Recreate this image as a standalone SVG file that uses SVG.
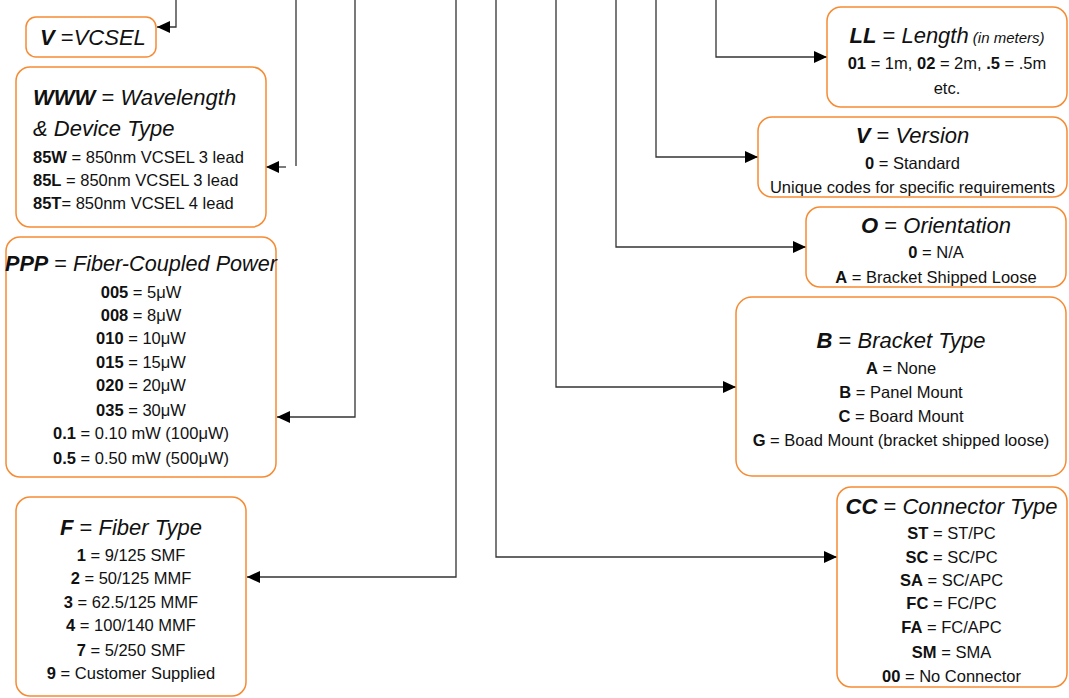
<svg xmlns="http://www.w3.org/2000/svg" width="1069" height="698" viewBox="0 0 1069 698">
<style>
text{font-family:"Liberation Sans",Arial,sans-serif;fill:#111}
.t{font-size:22px}
.s{font-size:16.5px}
.c{text-anchor:middle}
.k{font-weight:bold;font-style:italic}
.i{font-style:italic}
.b{font-weight:bold}
.box{fill:#fff;stroke:#F68B33;stroke-width:1.5}
.ln{fill:none;stroke:#333;stroke-width:1.3}
</style>
<defs>
<marker id="ah" markerUnits="userSpaceOnUse" markerWidth="13" markerHeight="12" refX="13" refY="6" orient="auto">
<path d="M0,0 L13,6 L0,12 z" fill="#000"/>
</marker>
</defs>
<rect width="1069" height="698" fill="#fff"/>
<g id="connectors">
<path class="ln" d="M176,0 V27 H157" marker-end="url(#ah)"/>
<path class="ln" d="M296,0 V166"/>
<path class="ln" d="M286,167 H266" marker-end="url(#ah)"/>
<path class="ln" d="M355,0 V417 H277" marker-end="url(#ah)"/>
<path class="ln" d="M456,0 V577 H247" marker-end="url(#ah)"/>
<path class="ln" d="M496,0 V557 H837" marker-end="url(#ah)"/>
<path class="ln" d="M556,0 V387 H736" marker-end="url(#ah)"/>
<path class="ln" d="M616,0 V247 H806" marker-end="url(#ah)"/>
<path class="ln" d="M656,0 V157 H758" marker-end="url(#ah)"/>
<path class="ln" d="M716,0 V57 H827" marker-end="url(#ah)"/>
</g>
<g id="vcsel">
<rect class="box" x="26" y="17" width="130" height="40" rx="10"/>
<text class="t" x="40" y="45"><tspan class="k">V</tspan> =<tspan class="i">VCSEL</tspan></text>
</g>
<g id="www">
<rect class="box" x="16" y="67" width="250" height="160" rx="14"/>
<text class="t" x="33" y="105"><tspan class="k">WWW</tspan> = <tspan class="i">Wavelength</tspan></text>
<text class="t i" x="33" y="136">&amp; Device Type</text>
<text class="s" x="33" y="163"><tspan class="b">85W</tspan> = 850nm VCSEL 3 lead</text>
<text class="s" x="33" y="186"><tspan class="b">85L</tspan> = 850nm VCSEL 3 lead</text>
<text class="s" x="33" y="209"><tspan class="b">85T</tspan>= 850nm VCSEL 4 lead</text>
</g>
<g id="ppp">
<rect class="box" x="6" y="237" width="270" height="240" rx="14"/>
<text class="t c" x="141" y="271" textLength="272" lengthAdjust="spacingAndGlyphs"><tspan class="k">PPP</tspan> = <tspan class="i">Fiber-Coupled Power</tspan></text>
<text class="s c" x="141" y="298"><tspan class="b">005</tspan> = 5μW</text>
<text class="s c" x="141" y="321"><tspan class="b">008</tspan> = 8μW</text>
<text class="s c" x="141" y="344"><tspan class="b">010</tspan> = 10μW</text>
<text class="s c" x="141" y="368"><tspan class="b">015</tspan> = 15μW</text>
<text class="s c" x="141" y="391"><tspan class="b">020</tspan> = 20μW</text>
<text class="s c" x="141" y="416"><tspan class="b">035</tspan> = 30μW</text>
<text class="s c" x="141" y="439"><tspan class="b">0.1</tspan> = 0.10 mW (100μW)</text>
<text class="s c" x="141" y="464"><tspan class="b">0.5</tspan> = 0.50 mW (500μW)</text>
</g>
<g id="fiber">
<rect class="box" x="16" y="497" width="230" height="199" rx="14"/>
<text class="t c" x="131" y="535"><tspan class="k">F</tspan> = <tspan class="i">Fiber Type</tspan></text>
<text class="s c" x="131" y="561"><tspan class="b">1</tspan> = 9/125 SMF</text>
<text class="s c" x="131" y="584"><tspan class="b">2</tspan> = 50/125 MMF</text>
<text class="s c" x="131" y="608"><tspan class="b">3</tspan> = 62.5/125 MMF</text>
<text class="s c" x="131" y="631"><tspan class="b">4</tspan> = 100/140 MMF</text>
<text class="s c" x="131" y="656"><tspan class="b">7</tspan> = 5/250 SMF</text>
<text class="s c" x="131" y="679"><tspan class="b">9</tspan> = Customer Supplied</text>
</g>
<g id="length">
<rect class="box" x="827" y="7" width="240" height="100" rx="14"/>
<text class="t c" x="947" y="43"><tspan class="k">LL</tspan> = <tspan class="i">Length</tspan><tspan class="i" font-size="15"> (in meters)</tspan></text>
<text class="s c" x="947" y="69"><tspan class="b">01</tspan> = 1m, <tspan class="b">02</tspan> = 2m, <tspan class="b">.5</tspan> = .5m</text>
<text class="s c" x="947" y="94">etc.</text>
</g>
<g id="version">
<rect class="box" x="758" y="117" width="309" height="80" rx="14"/>
<text class="t c" x="912.5" y="143"><tspan class="k">V</tspan> = <tspan class="i">Version</tspan></text>
<text class="s c" x="912.5" y="169"><tspan class="b">0</tspan> = Standard</text>
<text class="s c" x="912.5" y="193">Unique codes for specific requirements</text>
</g>
<g id="orientation">
<rect class="box" x="806" y="207" width="260" height="80" rx="14"/>
<text class="t c" x="936" y="233"><tspan class="k">O</tspan> = <tspan class="i">Orientation</tspan></text>
<text class="s c" x="936" y="258"><tspan class="b">0</tspan> = N/A</text>
<text class="s c" x="936" y="283"><tspan class="b">A</tspan> = Bracket Shipped Loose</text>
</g>
<g id="bracket">
<rect class="box" x="736" y="297" width="330" height="179" rx="16"/>
<text class="t c" x="901" y="348"><tspan class="k">B</tspan> = <tspan class="i">Bracket Type</tspan></text>
<text class="s c" x="901" y="374"><tspan class="b">A</tspan> = None</text>
<text class="s c" x="901" y="398"><tspan class="b">B</tspan> = Panel Mount</text>
<text class="s c" x="901" y="422"><tspan class="b">C</tspan> = Board Mount</text>
<text class="s c" x="901" y="446"><tspan class="b">G</tspan> = Boad Mount (bracket shipped loose)</text>
</g>
<g id="connector">
<rect class="box" x="837" y="487" width="230" height="200" rx="14"/>
<text class="t c" x="951.5" y="514"><tspan class="k">CC</tspan> = <tspan class="i">Connector Type</tspan></text>
<text class="s c" x="951.5" y="539"><tspan class="b">ST</tspan> = ST/PC</text>
<text class="s c" x="951.5" y="563"><tspan class="b">SC</tspan> = SC/PC</text>
<text class="s c" x="951.5" y="586"><tspan class="b">SA</tspan> = SC/APC</text>
<text class="s c" x="951.5" y="609"><tspan class="b">FC</tspan> = FC/PC</text>
<text class="s c" x="951.5" y="633"><tspan class="b">FA</tspan> = FC/APC</text>
<text class="s c" x="951.5" y="658"><tspan class="b">SM</tspan> = SMA</text>
<text class="s c" x="951.5" y="682"><tspan class="b">00</tspan> = No Connector</text>
</g>
</svg>
